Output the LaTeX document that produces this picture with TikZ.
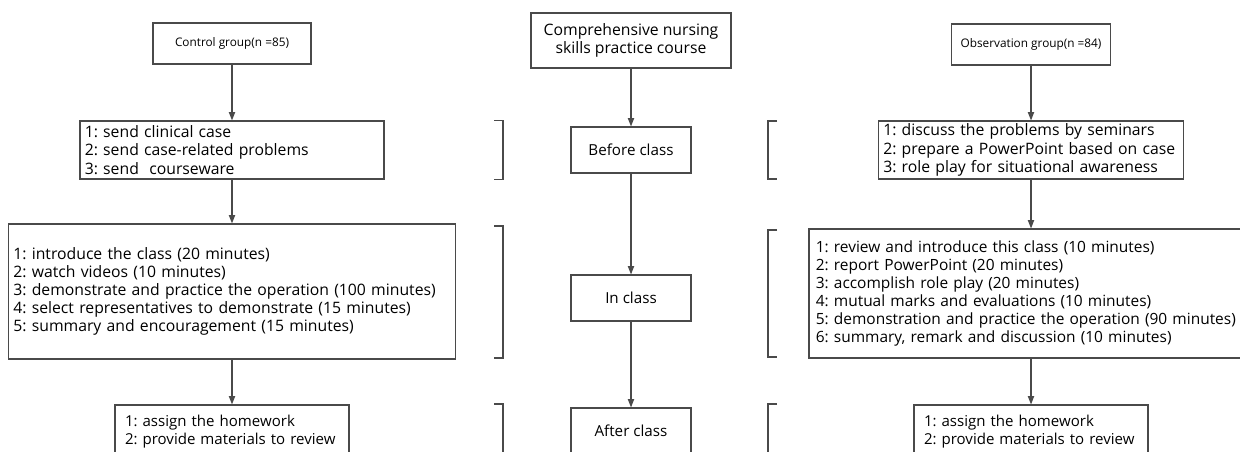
\documentclass[tikz,border=0pt]{standalone}
\usepackage{fontspec}
\setmainfont{Open Sans}
\frenchspacing
\usetikzlibrary{arrows.meta}
\definecolor{linegray}{HTML}{4A4A4A}
\newcommand{\stagebracket}{\draw[linegray, line width=0.8pt] (-0.225,0.5) -- (0,0.5) -- (0,-0.5) -- (-0.225,-0.5);}
\tikzset{
	box/.style={draw=linegray, line width=0.8pt, inner xsep=0.12cm, inner ysep=0pt},
	groupbox/.style={box, align=center, font=\fontsize{8.4}{10}\selectfont},
	stagebox/.style={box, align=center, minimum width=3cm, minimum height=1.15cm, font=\fontsize{10.8}{12.8}\selectfont},
	listbox/.style={box, align=left, font=\fontsize{11.2}{12.9}\selectfont}
}
\tikzset{flow/.style={draw=linegray, line width=0.8pt, -{Triangle[length=6pt, width=4.5pt]}}}

\begin{document}
\begin{tikzpicture}

					\useasboundingbox (0,0) rectangle (31,-11.275);
					\clip (0,0) rectangle (31,-11.275);

					% control group
					\node[groupbox, minimum width=3.95cm, minimum height=1.025cm] (ctrl) at (5.8,-1.0875) {Control group(n =85)};
					\node[listbox, text width=7.36cm, minimum height=1.45cm] (ctrlbefore) at (5.8,-3.75) {1: send clinical case\\2: send case-related problems\\3: send~ courseware};
					\node[listbox, text width=10.93cm, minimum height=3.375cm] (ctrlin) at (5.8,-7.2875) {1: introduce the class (20 minutes)\\2: watch videos (10 minutes)\\3: demonstrate and practice the operation (100 minutes)\\4: select representatives to demonstrate (15 minutes)\\5: summary and encouragement (15 minutes)};
					\node[listbox, font=\fontsize{10.7}{12.9}\selectfont, inner xsep=0.25cm, text width=5.35cm, minimum height=1.35cm] (ctrlafter) at (5.8,-10.8) {1: assign the homework\\2: provide materials to review};

					% course
					\node[box, align=center, minimum width=5cm, minimum height=1.375cm, font=\fontsize{11.2}{12.9}\selectfont] (course) at (15.775,-1.0125) {Comprehensive nursing\\skills practice course};
					\node[stagebox] (before) at (15.775,-3.75) {Before class};
					\node[stagebox] (in) at (15.775,-7.45) {In class};
					\node[stagebox] (after) at (15.775,-10.775) {After class};

					% observation group
					\node[groupbox, minimum width=3.975cm, minimum height=1.025cm] (obs) at (25.775,-1.1125) {Observation group(n =84)};
					\node[listbox, text width=7.385cm, minimum height=1.45cm] (obsbefore) at (25.775,-3.75) {1: discuss the problems by seminars\\2: prepare a PowerPoint based on case\\3: role play for situational awareness};
					\node[listbox, font=\fontsize{11}{12.9}\selectfont, inner xsep=0.17cm, text width=10.76cm, minimum height=3.225cm] (obsin) at (25.775,-7.3375) {1: review and introduce this class (10 minutes)\\2: report PowerPoint (20 minutes)\\3: accomplish role play (20 minutes)\\4: mutual marks and evaluations (10 minutes)\\5: demonstration and practice the operation (90 minutes)\\6: summary, remark and discussion (10 minutes)};
					\node[listbox, font=\fontsize{10.7}{12.9}\selectfont, inner xsep=0.25cm, text width=5.35cm, minimum height=1.35cm] (obsafter) at (25.775,-10.8) {1: assign the homework\\2: provide materials to review};

					\draw[flow] (ctrl) -- (ctrlbefore);
					\draw[flow] (ctrlbefore) -- (ctrlin);
					\draw[flow] (ctrlin) -- (ctrlafter);
					\draw[flow] (course) -- (before);
					\draw[flow] (before) -- (in);
					\draw[flow] (in) -- (after);
					\draw[flow] (obs) -- (obsbefore);
					\draw[flow] (obsbefore) -- (obsin);
					\draw[flow] (obsin) -- (obsafter);

					% stage brackets
					\begin{scope}[xshift = 12.575cm, yshift = -3.75cm, yscale = 1.475]
						\stagebracket
					\end{scope}

					\begin{scope}[xshift = 12.575cm, yshift = -7.3cm, yscale = 3.3]
						\stagebracket
					\end{scope}

					\begin{scope}[xshift = 12.575cm, yshift = -11.3cm, yscale = 2.4]
						\stagebracket
					\end{scope}

					\begin{scope}[xshift = 19.2cm, yshift = -3.75cm, xscale = -1, yscale = 1.45]
						\stagebracket
					\end{scope}

					\begin{scope}[xshift = 19.2cm, yshift = -7.3375cm, xscale = -1, yscale = 3.175]
						\stagebracket
					\end{scope}

					\begin{scope}[xshift = 19.2cm, yshift = -11.3cm, xscale = -1, yscale = 2.4]
						\stagebracket
					\end{scope}

				\end{tikzpicture}
\end{document}
